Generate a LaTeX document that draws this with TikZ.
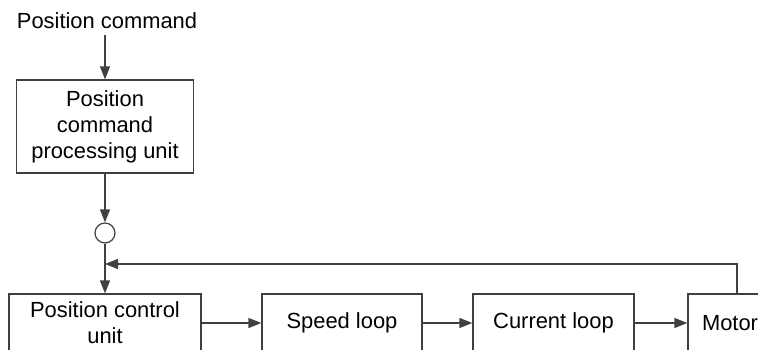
\documentclass[tikz,border=0pt]{standalone}
\usepackage{fontspec}
\setmainfont{Liberation Sans}
\usetikzlibrary{arrows.meta}
\definecolor{ln}{HTML}{404040}
\begin{document}
\begin{tikzpicture}[x=1pt,y=-1pt,
  lbl/.style={inner sep=6pt, font=\fontsize{21.9}{26}\selectfont},
  box/.style={draw=ln, line width=1.2pt, minimum height=58pt, inner sep=0pt, align=center, font=\fontsize{21.9}{26}\selectfont},
  arr/.style={draw=ln, line width=1.2pt, -{Triangle[length=13pt,width=10pt]}},
  ln/.style={draw=ln, line width=1.2pt}]
\useasboundingbox (0,0) rectangle (758,349);
\clip (0,0) rectangle (758,349);
\node[lbl] (pc) at (107,21) {Position command};
\node[box, minimum width=177pt, minimum height=93pt] (b1) at (105,126.5) {Position\\command\\processing unit};
\node[draw=ln, line width=1.2pt, circle, minimum size=20pt, inner sep=0pt] (s) at (105,233) {};
\node[box, minimum width=192pt] (b2) at (105,323) {Position control\\unit};
\node[box, minimum width=160pt] (b3) at (342,323) {Speed loop};
\node[box, minimum width=161pt] (b4) at (553.5,323) {Current loop};
\node[box, minimum width=84pt] (b5) at (730,323) {Motor};
\coordinate (fb) at (737,294);
\coordinate (j) at (105,264);
\draw[arr] (pc.south -| b1) -- (b1.north);
\draw[arr] (b1.south) -- (s.north);
\draw[arr] (s.south) -- (b2.north);
\draw[arr] (fb) |- (j);
\draw[arr] (b2.east) -- (b3.west);
\draw[arr] (b3.east) -- (b4.west);
\draw[arr] (b4.east) -- (b5.west);
\end{tikzpicture}
\end{document}
